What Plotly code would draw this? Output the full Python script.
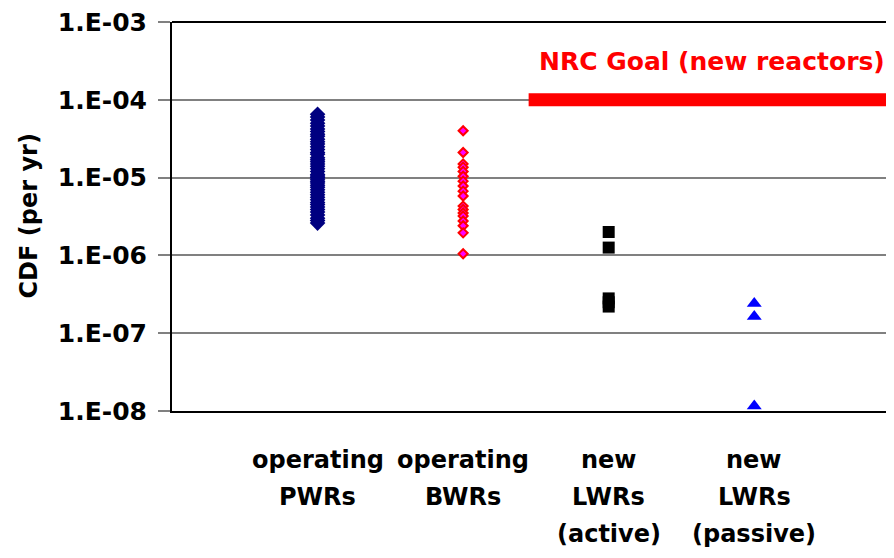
import plotly.graph_objects as go

# ---- data ----
categories = [["operating", "PWRs"], ["operating", "BWRs"],
              ["new", "LWRs", "(active)"], ["new", "LWRs", "(passive)"]]
cat_x = [1, 2, 3, 4]

pwr_cdf = [6.5e-5, 6.0e-5, 5.5e-5, 5.0e-5, 4.6e-5, 4.2e-5, 3.9e-5, 3.6e-5, 3.4e-5,
           3.1e-5, 2.9e-5, 2.7e-5, 2.5e-5, 2.3e-5, 2.1e-5, 2.0e-5, 1.8e-5, 1.7e-5,
           1.6e-5, 1.5e-5, 1.4e-5, 1.3e-5, 1.2e-5, 1.1e-5, 1.05e-5, 1.0e-5, 9.5e-6,
           9.0e-6, 8.5e-6, 8.0e-6, 7.5e-6, 7.0e-6, 6.5e-6, 6.0e-6, 5.6e-6, 5.2e-6,
           4.8e-6, 4.5e-6, 4.2e-6, 3.9e-6, 3.6e-6, 3.3e-6, 3.0e-6, 2.8e-6, 2.6e-6]
bwr_cdf = [4.0e-5, 2.1e-5, 1.5e-5, 1.36e-5, 1.2e-5, 1.04e-5, 9.0e-6, 7.8e-6, 6.7e-6,
           5.8e-6, 4.3e-6, 3.9e-6, 3.5e-6, 3.2e-6, 2.77e-6, 2.4e-6, 1.95e-6, 1.05e-6]
active_cdf = [2.0e-6, 1.26e-6, 2.8e-7, 2.5e-7, 2.2e-7]
passive_cdf = [2.4e-7, 1.64e-7, 1.16e-8]

nrc_goal = 1.0e-4
nrc_x = [2.45, 4.94]
nrc_label = "NRC Goal (new reactors)"

y_tickvals = [1e-3, 1e-4, 1e-5, 1e-6, 1e-7, 1e-8]
y_ticktext = ["1.E-03", "1.E-04", "1.E-05", "1.E-06", "1.E-07", "1.E-08"]
y_title = "CDF (per yr)"

FONT = "DejaVu Sans"

fig = go.Figure()

fig.add_trace(go.Scatter(
    x=[cat_x[0]] * len(pwr_cdf), y=pwr_cdf, mode="markers",
    marker=dict(symbol="diamond", size=12, color="#000080", line=dict(width=0)),
    showlegend=False))
fig.add_trace(go.Scatter(
    x=[cat_x[1]] * len(bwr_cdf), y=bwr_cdf, mode="markers",
    marker=dict(symbol="diamond", size=7, color="#FF00FF", line=dict(width=2, color="#FF0000")),
    showlegend=False))
fig.add_trace(go.Scatter(
    x=[cat_x[2]] * len(active_cdf), y=active_cdf, mode="markers",
    marker=dict(symbol="square", size=12, color="#000000", line=dict(width=0)),
    showlegend=False))
fig.add_trace(go.Scatter(
    x=[cat_x[3]] * len(passive_cdf), y=passive_cdf, mode="markers",
    marker=dict(symbol="triangle-up", size=13, color="#0000FF", line=dict(width=0)),
    showlegend=False, cliponaxis=False))
fig.add_trace(go.Scatter(
    x=nrc_x, y=[nrc_goal, nrc_goal], mode="lines",
    line=dict(color="#FF0000", width=13), showlegend=False))

annotations = []
line_gap = 37
for xv, lines in zip(cat_x, categories):
    for i, t in enumerate(lines):
        annotations.append(dict(
            x=xv, xref="x", y=0, yref="paper", text=t, showarrow=False,
            yanchor="middle", xanchor="center", yshift=-49 - i * line_gap,
            font=dict(family=FONT, size=24, color="#000000", weight="bold")))
annotations.append(dict(
    x=3.71, xref="x", y=1, yref="paper", text=nrc_label, showarrow=False,
    yanchor="middle", xanchor="center", yshift=-39,
    font=dict(family=FONT, size=25, color="#FF0000", weight="bold")))
annotations.append(dict(
    x=0, xref="paper", y=0.5, yref="paper", text=y_title, showarrow=False,
    textangle=-90, xanchor="center", yanchor="middle", xshift=-144,
    font=dict(family=FONT, size=24, color="#000000", weight="bold")))

fig.update_layout(
    width=886, height=542,
    margin=dict(l=164, r=0, t=12, b=139),
    paper_bgcolor="white", plot_bgcolor="white",
    annotations=annotations,
    shapes=[dict(type="line", xref="paper", yref="paper", x0=0, x1=1, y0=1, y1=1,
                 line=dict(color="black", width=2))],
    xaxis=dict(range=[0, 4.96], showgrid=False, zeroline=False, showticklabels=False,
               ticks="", showline=True, linecolor="black", linewidth=2),
    yaxis=dict(type="log", range=[-8, -3], tickvals=y_tickvals, ticktext=y_ticktext,
               showgrid=True, gridcolor="#808080", gridwidth=1.5,
               ticks="outside", ticklen=12, tickcolor="#808080", tickwidth=1.5,
               ticklabelstandoff=6, ticklabeloverflow="allow",
               showline=True, linecolor="black", linewidth=2, zeroline=False,
               tickfont=dict(family=FONT, size=25, color="#000000", weight="bold")),
)

fig.write_html("out.html")
